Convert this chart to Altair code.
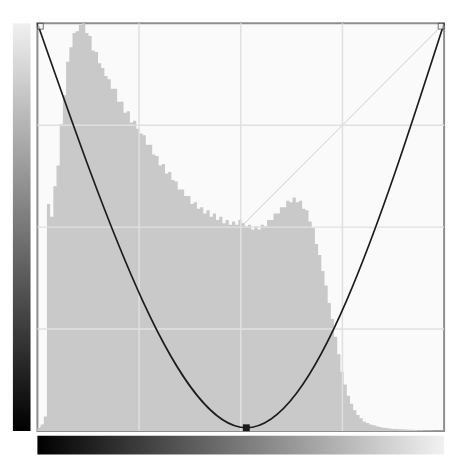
import altair as alt
import pandas as pd

# Histogram of the image levels (bin start, bin width 2), height on 0-255 scale
hist_levels = list(range(0, 256, 2))
hist_heights = [
    2, 4, 9, 142, 134, 153, 166, 192, 210, 231,
    240, 249, 250, 254, 255, 249, 247, 238, 237, 230,
    227, 222, 220, 214, 214, 206, 206, 199, 200, 193,
    194, 189, 186, 185, 179, 179, 173, 172, 166, 167,
    161, 162, 157, 156, 151, 151, 147, 147, 142, 143,
    139, 140, 136, 138, 134, 136, 132, 134, 130, 132,
    129, 131, 129, 132, 130, 128, 129, 126, 128, 126,
    129, 128, 132, 132, 136, 136, 140, 140, 144, 143,
    146, 143, 144, 139, 138, 131, 127, 117, 110, 100,
    91, 80, 70, 59, 48, 37, 29, 22, 17, 13,
    10, 8, 6, 5, 4, 3.5, 3, 2.5, 2, 1.8,
    1.5, 1.3, 1.2, 1.1, 1.0, 0.9, 0.8, 0.7, 0.6, 0.5,
    0.4, 0.35, 0.3, 0.25, 0.2, 0.15, 0.1, 0.1,
]

# Curve control points (input, output)
curve_in = [0, 131, 255]
curve_out = [255, 2, 255]

# Identity diagonal
diag_in = [0, 255]
diag_out = [0, 255]

# Grid positions (quarters)
grid_pos = [63.75, 127.5, 191.25]

hist_df = pd.DataFrame({"lo": hist_levels + [255], "h": hist_heights + [hist_heights[-1]]})
curve_df = pd.DataFrame({"x": curve_in, "y": curve_out, "i": range(len(curve_in))})
end_df = curve_df.iloc[[0, 2]]
mid_df = curve_df.iloc[[1]]
diag_df = pd.DataFrame({"x": diag_in, "y": diag_out})
grid_df = pd.DataFrame({"g": grid_pos})
range_df = pd.DataFrame({"lo": [0], "hi": [255]})

W, H = 415, 416
xs = alt.Scale(domain=[0, 255], nice=False, zero=False)
ys = alt.Scale(domain=[0, 255], nice=False, zero=False)
X = lambda f: alt.X(f, scale=xs, axis=None)
Y = lambda f: alt.Y(f, scale=ys, axis=None)

diag = alt.Chart(diag_df).mark_line(color="#cdcdcd", strokeWidth=1).encode(
    x=X("x:Q"), y=Y("y:Q"))

hist = alt.Chart(hist_df).mark_area(
    color="#c9c9c9", interpolate="step-after", opacity=1
).encode(x=X("lo:Q"), y=Y("h:Q"), y2=alt.datum(0))

vgrid = alt.Chart(grid_df).mark_rule(color="#e0e0e0", strokeWidth=1.5).encode(x=X("g:Q"))
hgrid = alt.Chart(grid_df).mark_rule(color="#e0e0e0", strokeWidth=1.5).encode(y=Y("g:Q"))

curve = alt.Chart(curve_df).mark_line(
    interpolate="natural", color="#1c1c1c", strokeWidth=1.7
).encode(x=X("x:Q"), y=Y("y:Q"), order="i:Q")

ends = alt.Chart(end_df).mark_square(
    size=36, filled=False, color="#333333", strokeWidth=1, fill="#f4f4f4",
    xOffset=alt.expr("datum.x < 128 ? 3 : -3"), yOffset=3,
).encode(x=X("x:Q"), y=Y("y:Q"))

mid = alt.Chart(mid_df).mark_square(size=49, filled=True, color="#1a1a1a", opacity=1).encode(
    x=X("x:Q"), y=Y("y:Q"))

main = alt.layer(diag, hist, vgrid, hgrid, curve, ends, mid).properties(
    width=W, height=H,
    view=alt.ViewBackground(fill="#fafafa", stroke="#8e8e8e", strokeWidth=2),
)

left_bar = alt.Chart(range_df).mark_rect(
    color=alt.LinearGradient(
        gradient="linear",
        stops=[alt.GradientStop(color="#f0f0f0", offset=0),
               alt.GradientStop(color="#000000", offset=1)],
        x1=0, x2=0, y1=0, y2=1,
    )
).encode(y=Y("lo:Q"), y2="hi:Q", x=alt.value(0), x2=alt.value("width")).properties(
    width=18, height=H, view=alt.ViewBackground(strokeWidth=0))

bottom_bar = alt.Chart(range_df).mark_rect(
    color=alt.LinearGradient(
        gradient="linear",
        stops=[alt.GradientStop(color="#000000", offset=0),
               alt.GradientStop(color="#f2f2f2", offset=1)],
        x1=0, x2=1, y1=0, y2=0,
    )
).encode(x=X("lo:Q"), x2="hi:Q", y=alt.value(0), y2=alt.value("height")).properties(
    width=W, height=19, view=alt.ViewBackground(strokeWidth=0))

chart = alt.hconcat(
    left_bar,
    alt.vconcat(main, bottom_bar, spacing=2),
    spacing=2,
).properties(
    padding={"left": 5, "top": 6, "right": 0, "bottom": 0},
    background="#ffffff",
)

chart.save("out.html", embed_options={"renderer": "svg", "actions": False})
